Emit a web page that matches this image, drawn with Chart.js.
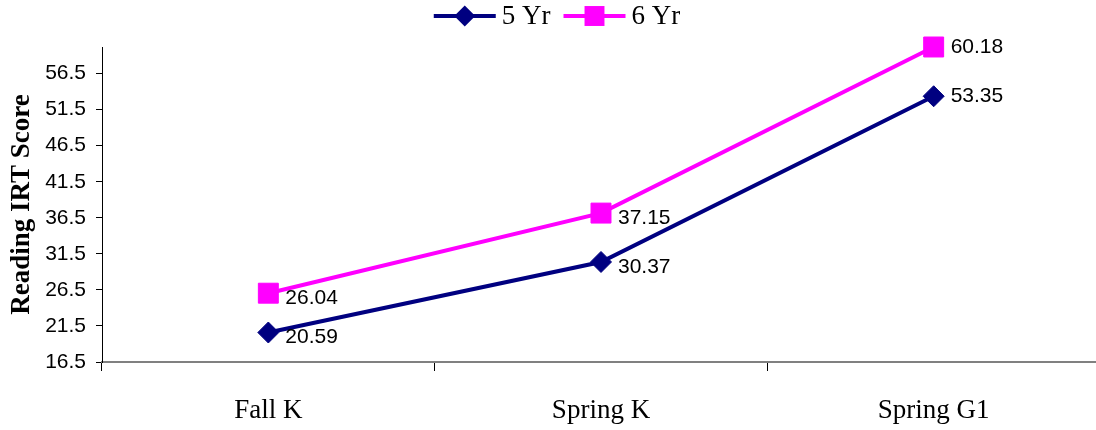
<!DOCTYPE html>
<html>
<head>
<meta charset="utf-8">
<script src="https://cdn.jsdelivr.net/npm/chart.js@4/dist/chart.umd.min.js"></script>
<style>
  html, body { margin: 0; padding: 0; background: #fff; overflow: hidden; }
  #wrap { position: relative; width: 1100px; height: 430px; }
</style>
</head>
<body>
<div id="wrap"><canvas id="c"></canvas></div>
<script>
// Reading IRT scores by assessment wave, for children entering at 5 and 6 years
const categories = ['Fall K', 'Spring K', 'Spring G1'];
const fiveYr = [20.59, 30.37, 53.35];
const sixYr = [26.04, 37.15, 60.18];
const yTicks = [16.5, 21.5, 26.5, 31.5, 36.5, 41.5, 46.5, 51.5, 56.5];
const yMin = 16.5;
const yMax = 60.18;

const NAVY = '#000080';
const MAGENTA = '#FF00FF';
const serif = '"Liberation Serif", "Times New Roman", serif';
const sans = '"Liberation Sans", Arial, sans-serif';

function markerPath(ctx, style, r, x, y) {
  ctx.beginPath();
  if (style === 'rectRot') {
    ctx.moveTo(x, y - r);
    ctx.lineTo(x + r, y);
    ctx.lineTo(x, y + r);
    ctx.lineTo(x - r, y);
  } else {
    const h = r * Math.SQRT1_2;
    ctx.rect(x - h, y - h, 2 * h, 2 * h);
  }
  ctx.closePath();
}

// Legend: a short line with the series marker, then the series name
const lineLegend = {
  id: 'lineLegend',
  afterDraw(chart) {
    const ctx = chart.ctx;
    const lineLen = 62, gap = 6, itemGap = 13, cy = 16;
    ctx.save();
    ctx.font = '27px ' + serif;
    const items = chart.data.datasets.map(ds => ({
      ds, w: lineLen + gap + ctx.measureText(ds.label).width
    }));
    const total = items.reduce((s, it) => s + it.w, 0) + itemGap * (items.length - 1);
    let x = chart.width / 2 + 7 - total / 2;
    items.forEach(({ds, w}) => {
      ctx.strokeStyle = ds.borderColor;
      ctx.lineWidth = 4;
      ctx.beginPath();
      ctx.moveTo(x, cy);
      ctx.lineTo(x + lineLen, cy);
      ctx.stroke();
      ctx.fillStyle = ds.pointBackgroundColor;
      markerPath(ctx, ds.pointStyle, ds.pointRadius, x + lineLen / 2, cy);
      ctx.fill();
      ctx.fillStyle = '#000';
      ctx.textAlign = 'left';
      ctx.textBaseline = 'middle';
      ctx.fillText(ds.label, x + lineLen + gap, cy + 1);
      x += w + itemGap;
    });
    ctx.restore();
  }
};

// Value labels to the right of each marker
const valueLabels = {
  id: 'valueLabels',
  afterDatasetsDraw(chart, args, opts) {
    const ctx = chart.ctx;
    ctx.save();
    ctx.font = '21px ' + sans;
    ctx.fillStyle = '#000';
    ctx.textAlign = 'left';
    ctx.textBaseline = 'middle';
    chart.data.datasets.forEach((ds, di) => {
      chart.getDatasetMeta(di).data.forEach((pt, i) => {
        ctx.fillText(ds.data[i].toFixed(2), pt.x + opts.dx, pt.y + opts.dy[i]);
      });
    });
    ctx.restore();
  }
};

new Chart(document.getElementById('c'), {
  type: 'line',
  data: {
    labels: categories,
    datasets: [
      {
        label: '5 Yr',
        data: fiveYr,
        borderColor: NAVY,
        backgroundColor: NAVY,
        pointBackgroundColor: NAVY,
        pointBorderColor: NAVY,
        pointStyle: 'rectRot',
        pointRadius: 10.5,
        pointBorderWidth: 1,
        borderWidth: 4,
        tension: 0,
        clip: false
      },
      {
        label: '6 Yr',
        data: sixYr,
        borderColor: MAGENTA,
        backgroundColor: MAGENTA,
        pointBackgroundColor: MAGENTA,
        pointBorderColor: MAGENTA,
        pointStyle: 'rect',
        pointRadius: 14.1,
        pointBorderWidth: 1,
        borderWidth: 4,
        tension: 0,
        clip: false
      }
    ]
  },
  options: {
    responsive: true,
    maintainAspectRatio: false,
    animation: false,
    layout: { autoPadding: false, padding: { top: 47, left: 0, right: 0, bottom: 0 } },
    plugins: {
      legend: { display: false },
      tooltip: { enabled: false },
      valueLabels: { dx: 17, dy: [5, 5, 0] }
    },
    scales: {
      x: {
        type: 'category',
        offset: true,
        grid: {
          offset: true,
          drawOnChartArea: false,
          drawTicks: true,
          tickLength: 9,
          color: '#000',
          lineWidth: 1
        },
        border: { display: true, color: '#808080', width: 2 },
        ticks: {
          color: '#000',
          font: { family: serif, size: 27 },
          padding: 24,
          maxRotation: 0
        },
        afterFit(scale) {
          scale.height = 68;
          scale.paddingLeft = 0;
          scale.paddingRight = 0;
        }
      },
      y: {
        min: yMin,
        max: yMax,
        afterBuildTicks(scale) {
          scale.ticks = yTicks.map(v => ({ value: v }));
        },
        grid: {
          drawOnChartArea: false,
          drawTicks: true,
          tickLength: 6,
          color: '#000',
          lineWidth: 1
        },
        border: { display: true, color: '#000', width: 1 },
        ticks: {
          color: '#000',
          font: { family: sans, size: 21 },
          padding: 10,
          callback: v => Number(v).toFixed(1)
        },
        title: {
          display: true,
          text: 'Reading IRT Score',
          color: '#000',
          font: { family: serif, size: 27, weight: 'bold', lineHeight: 1.2 },
          padding: { top: 6, bottom: 0 }
        },
        afterFit(scale) {
          scale.width = 102;
          scale.paddingTop = 0;
          scale.paddingBottom = 0;
        }
      }
    }
  },
  plugins: [lineLegend, valueLabels]
});
</script>
</body>
</html>
